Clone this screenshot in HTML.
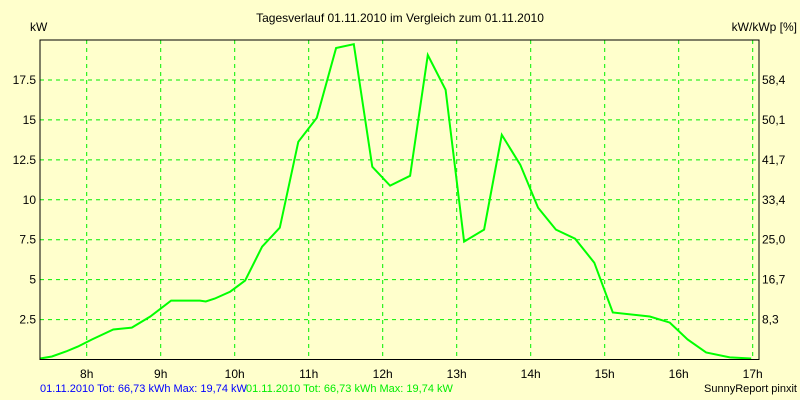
<!DOCTYPE html>
<html><head><meta charset="utf-8"><style>
body{margin:0;background:#ffffcc;}
svg{display:block;font-family:"Liberation Sans",sans-serif;}
</style></head><body>
<svg id="chart" width="800" height="400">
<rect x="0" y="0" width="800" height="400" fill="#ffffcc"/>
<text x="400" y="22" font-size="12" text-anchor="middle" fill="#000">Tagesverlauf 01.11.2010 im Vergleich zum 01.11.2010</text>
<text x="30" y="31" font-size="12" fill="#000">kW</text>
<text x="797" y="31" font-size="12" text-anchor="end" fill="#000">kW/kWp [%]</text>
<g id="grid"></g>
<g id="labels"></g>
<polyline id="series" fill="none" stroke="#00ff00" stroke-width="2"/>
<rect x="40" y="40" width="719" height="319.5" fill="none" stroke="#000" stroke-width="1"/>
<text x="40" y="392" font-size="11" fill="#0000ff">01.11.2010 Tot: 66,73 kWh Max: 19,74 kW</text>
<text x="246" y="392" font-size="11" fill="#00ee00">01.11.2010 Tot: 66,73 kWh Max: 19,74 kW</text>
<text x="797" y="392" font-size="11" text-anchor="end" fill="#000">SunnyReport pinxit</text>
</svg>
<script>
const hours=[7.37,7.53,7.72,7.88,8.07,8.36,8.61,8.86,9.14,9.53,9.61,9.73,9.94,10.14,10.37,10.61,10.86,11.11,11.37,11.61,11.86,12.1,12.37,12.61,12.85,13.1,13.37,13.61,13.86,14.1,14.34,14.6,14.86,15.11,15.61,15.88,16.12,16.37,16.69,16.98];
const kw=[0.06,0.19,0.5,0.81,1.25,1.88,2.0,2.69,3.69,3.69,3.63,3.81,4.25,4.94,7.06,8.25,13.63,15.13,19.5,19.74,12.06,10.88,11.5,19.06,16.88,7.38,8.13,14.06,12.19,9.5,8.13,7.56,6.06,2.94,2.69,2.31,1.25,0.44,0.13,0.06];
const xTicks=[8,9,10,11,12,13,14,15,16,17];
const yTicks=[2.5,5,7.5,10,12.5,15,17.5];
const yTickLabels=["2.5","5","7.5","10","12.5","15","17.5"];
const rightTickLabels=["8,3","16,7","25,0","33,4","41,7","50,1","58,4"];
const NS="http://www.w3.org/2000/svg";
const x=h=>86.7+(h-8)*74;
const y=v=>359.5-v*15.975;
const grid=document.getElementById('grid'),labels=document.getElementById('labels');
function mk(tag,attrs,parent){const e=document.createElementNS(NS,tag);for(const k in attrs)e.setAttribute(k,attrs[k]);parent.appendChild(e);return e;}
xTicks.forEach(t=>{
  const l=mk('line',{x1:x(t),x2:x(t),y1:40,y2:359,stroke:'#00ee00','stroke-dasharray':'4,4'},grid);
  
  
  const tx=mk('text',{x:x(t),y:378,'font-size':12,'text-anchor':'middle'},labels);
  tx.textContent=t+'h';
  
  
});
yTicks.forEach((t,i)=>{
  const l=mk('line',{x1:40,x2:759,y1:y(t),y2:y(t),stroke:'#00ee00','stroke-dasharray':'4,4'},grid);
  
  
  const a=mk('text',{x:36,y:y(t)+4,'font-size':12,'text-anchor':'end'},labels);
  a.textContent=yTickLabels[i];
  
  
  const b=mk('text',{x:762,y:y(t)+4,'font-size':12},labels);
  b.textContent=rightTickLabels[i];
  
  
});
document.getElementById('series').setAttribute('points',hours.map((h,i)=>x(h).toFixed(1)+','+y(kw[i]).toFixed(1)).join(' '));
</script>
</body></html>
